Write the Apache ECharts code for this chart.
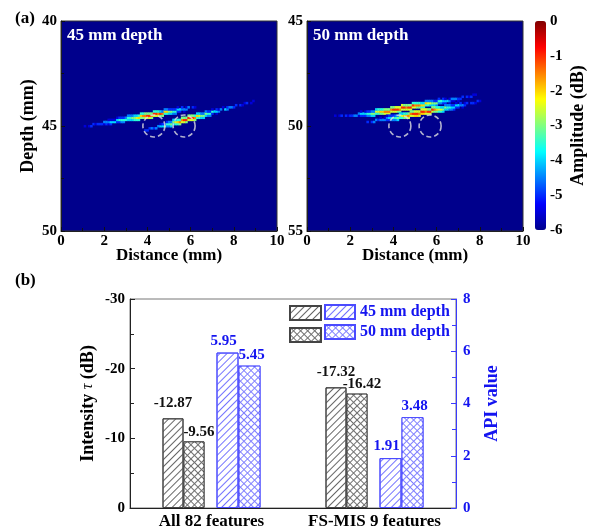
<!DOCTYPE html>
<html><head><meta charset="utf-8">
<script src="https://cdn.jsdelivr.net/npm/echarts@6/dist/echarts.min.js"></script>
<style>html,body{margin:0;padding:0;background:#fff}#c{width:592px;height:529px}</style>
</head><body><div id="c"></div>
<script>
// ================= DATA =================
// ---- panel (a): B-scan images ----
const distanceTicks = [0, 2, 4, 6, 8, 10];
const depthRange45 = [40, 50];
const depthRange50 = [45, 55];
const amplitudeRange = [-6, 0];
// amplitude code -> dB  ('.' = -6 dB background)
const LEVEL_DB = {'1':-5.5,'2':-5,'3':-4.5,'4':-4,'5':-3.5,'6':-3,'7':-2.5,'8':-2,'9':-1.5,'A':-1,'B':-0.5};
// image cells are 0.1 mm x 0.1 mm; origin = centre of row 0 / col 0
const origin45 = {x0: 1.0, d0: 43.8};
const origin50 = {x0: 1.0, d0: 48.4};
// [row, first column, amplitude codes]
const cells45 = [
  [12,1,'1.12'],
  [11,5,'21222'],[11,10,'1212'],
  [10,10,'333444'],[10,16,'2233'],
  [9,12,'1111'],[9,16,'45555'],[9,21,'444555'],
  [8,16,'12223'],[8,21,'556678'],[8,27,'667776'],
  [7,21,'333445'],[7,27,'899AA9'],[7,33,'77766'],
  [6,27,'556666'],[6,33,'AA9A9'],[6,38,'554433'],
  [5,33,'55543'],[5,38,'886655'],[5,44,'22.1.'],
  [4,38,'332222'],[4,44,'44333'],
  [3,44,'1.2.1'],[3,49,'3.21'],
  [14,29,'22'],
  [13,31,'2323'],
  [12,35,'3445'],[12,39,'334'],
  [11,36,'122'],[11,39,'556'],[11,42,'4556'],
  [10,39,'233'],[10,42,'6789'],[10,46,'776'],
  [9,42,'4455'],[9,46,'9AA'],[9,49,'7776'],
  [8,46,'666'],[8,49,'AAA9'],[8,53,'5544'],
  [7,49,'6665'],[7,53,'8766'],[7,57,'433'],
  [6,53,'4433'],[6,57,'655'],[6,60,'2.1.'],
  [5,57,'322'],[5,60,'5443'],
  [4,60,'1.21'],[4,64,'3.43'],
  [3,64,'.1.2'],[3,68,'332'],
  [2,71,'2.21'],
  [1,75,'12.1'],
  [0,79,'1']
];
const cells50 = [
  [11,3,'1.12.212233'],[11,14,'12223344'],
  [10,14,'34445566'],[10,22,'5566777'],
  [9,14,'.1.12233'],[9,22,'7788999'],[9,29,'77766'],
  [8,22,'4555666'],[8,29,'9AAA9'],[8,34,'77777'],
  [7,29,'66777'],[7,34,'AA9AA'],[7,39,'776655'],
  [6,34,'76666'],[6,39,'A99988'],[6,45,'554443'],
  [5,39,'555544'],[5,45,'877666'],[5,51,'3322.1'],
  [4,45,'333322'],[4,51,'554443'],[4,57,'11.1.'],
  [3,51,'2.21.1'],[3,57,'33322'],
  [2,62,'2.212'],
  [1,67,'11'],
  [14,18,'2.23'],
  [13,22,'32333'],[13,27,'223334'],
  [12,24,'1.1'],[12,27,'344556'],[12,33,'55667'],
  [11,27,'122233'],[11,33,'67889'],[11,38,'77887'],
  [10,33,'44556'],[10,38,'9AAA9'],[10,43,'88777'],
  [9,38,'66777'],[9,43,'AA9AA'],[9,48,'766554'],
  [8,43,'77766'],[8,48,'A98776'],[8,54,'44332'],
  [7,48,'665544'],[7,54,'65544'],[7,59,'22.1.'],
  [6,54,'33322'],[6,59,'44332'],
  [5,59,'1.2.1'],[5,64,'2.221'],
  [4,69,'21']
];
const circles45 = [[4.3, 45.0], [5.7, 45.0]];
const circles50 = [[4.3, 50.0], [5.7, 50.0]];

// ---- panel (b): bars ----
const featureSets = ['All 82 features', 'FS-MIS 9 features'];
const tau45 = [-12.87, -17.32];
const tau50 = [-9.56, -16.42];
const api45 = [5.95, 1.91];
const api50 = [5.45, 3.48];
const spacer = [0, 0];

// ================= CHART =================
const CELL = 0.1;
const F = '"Liberation Serif","Times New Roman",serif';
const BLUE = '#1414F0';
const JET = ['#00008C','#0000FF','#0080FF','#00FFFF','#80FF80','#FFFF00','#FF8000','#FF0000','#800000'];

function decode(cells, o) {
  const out = [];
  cells.forEach(([row, col, codes]) => {
    for (let k = 0; k < codes.length; k++) {
      const ch = codes[k];
      if (ch === '.') continue;
      out.push([+(o.x0 + CELL * (col + k)).toFixed(2), +(o.d0 + CELL * row).toFixed(2), LEVEL_DB[ch]]);
    }
  });
  return out;
}
function renderCell(params, api) {
  const x = api.value(0), d = api.value(1);
  const p1 = api.coord([x - CELL / 2, d - CELL / 2]);
  const p2 = api.coord([x + CELL / 2, d + CELL / 2]);
  return {
    type: 'rect',
    shape: {x: Math.min(p1[0], p2[0]), y: Math.min(p1[1], p2[1]),
            width: Math.abs(p2[0] - p1[0]) + 0.4, height: Math.abs(p2[1] - p1[1]) + 0.4},
    style: {fill: api.visual('color')}
  };
}

const lab = (extra) => Object.assign({fontFamily: F, fontWeight: 'bold', fontSize: 15, color: '#000'}, extra || {});
function distAxis(gi) {
  return {
    type: 'value', gridIndex: gi, min: 0, max: 10, interval: 2,
    name: 'Distance (mm)', nameLocation: 'middle', nameGap: 16, nameMoveOverlap: false,
    nameTextStyle: lab({fontSize: 17}),
    axisLine: {show: true, lineStyle: {color: '#222', width: 1}},
    axisTick: {show: true, inside: true, length: 4, lineStyle: {color: '#111'}},
    minorTick: {show: true, splitNumber: 2, length: 3, lineStyle: {color: '#111'}},
    axisLabel: lab({margin: 3}),
    splitLine: {show: false}
  };
}
function depthAxis(gi, range, named) {
  return {
    type: 'value', gridIndex: gi, min: range[0], max: range[1], interval: 5, inverse: true,
    name: named ? 'Depth (mm)' : '', nameLocation: 'middle', nameGap: 24, nameRotate: 90, nameMoveOverlap: false,
    nameTextStyle: lab({fontSize: 18}),
    axisLine: {show: true, lineStyle: {color: '#222', width: 1}},
    axisTick: {show: true, inside: true, length: 4, lineStyle: {color: '#111'}},
    minorTick: {show: true, splitNumber: 2, length: 3, lineStyle: {color: '#111'}},
    axisLabel: lab({margin: 4}),
    splitLine: {show: false}
  };
}
const hatch = (line) => ({symbol: 'rect', symbolSize: 1, color: line, dashArrayX: [1, 0], dashArrayY: [0.9, 3.4], rotation: -Math.PI / 4});
const cross = () => ({symbol: 'rect', symbolSize: 1, color: '#ffffff', dashArrayX: [3.2, 1], dashArrayY: [3.2, 1], rotation: Math.PI / 4});

const circleSeries = (xi, yi, data) => ({
  type: 'scatter', xAxisIndex: xi, yAxisIndex: yi, data: data, symbol: 'circle', symbolSize: 22, silent: true, z: 5,
  itemStyle: {color: 'rgba(0,0,0,0)', borderColor: '#e0e0e0', borderWidth: 1.6, borderType: [5, 3]}
});

const option = {
  backgroundColor: '#fff',
  animation: false,
  grid: [
    {left: 61, top: 21, width: 216, height: 210, show: true, backgroundColor: JET[0], borderColor: '#333', borderWidth: 1, outerBoundsMode: 'none'},
    {left: 307, top: 21, width: 216, height: 210, show: true, backgroundColor: JET[0], borderColor: '#333', borderWidth: 1, outerBoundsMode: 'none'},
    {left: 535, top: 21, width: 11, height: 209, show: false, outerBoundsMode: 'none'},
    {left: 130, top: 299, width: 326, height: 209, show: true, backgroundColor: 'rgba(0,0,0,0)', borderColor: '#777', borderWidth: 1, outerBoundsMode: 'none'}
  ],
  xAxis: [
    distAxis(0),
    distAxis(1),
    {type: 'value', gridIndex: 2, min: 0, max: 1, show: false},
    {type: 'category', gridIndex: 3, data: featureSets,
     axisLine: {show: true, lineStyle: {color: '#222'}}, axisTick: {show: false},
     axisLabel: lab({fontSize: 17, margin: 5, interval: 0, hideOverlap: false}), splitLine: {show: false}}
  ],
  yAxis: [
    depthAxis(0, depthRange45, true),
    depthAxis(1, depthRange50, false),
    {type: 'value', gridIndex: 2, min: amplitudeRange[0], max: amplitudeRange[1], interval: 1, position: 'right',
     name: 'Amplitude (dB)', nameLocation: 'middle', nameGap: 23, nameRotate: 90, nameMoveOverlap: false,
     nameTextStyle: lab({fontSize: 18}),
     axisLine: {show: false}, axisTick: {show: false}, axisLabel: lab({margin: 4}), splitLine: {show: false}},
    {type: 'value', gridIndex: 3, min: -30, max: 0, interval: 10, inverse: true, position: 'left',
     name: '{a|Intensity }{b|τ}{a| (dB)}', nameLocation: 'middle', nameGap: 33, nameRotate: 90, nameMoveOverlap: false,
     nameTextStyle: {rich: {a: lab({fontSize: 18}), b: {fontFamily: F, fontStyle: 'italic', fontSize: 16, color: '#000'}}},
     axisLine: {show: true, lineStyle: {color: '#222'}},
     axisTick: {show: true, inside: true, length: 5, lineStyle: {color: '#222'}},
     minorTick: {show: true, splitNumber: 2, length: 4, lineStyle: {color: '#222'}},
     axisLabel: lab({margin: 5}), splitLine: {show: false}},
    {type: 'value', gridIndex: 3, min: 0, max: 8, interval: 2, position: 'right',
     name: 'API value', nameLocation: 'middle', nameGap: 27, nameRotate: 90, nameMoveOverlap: false,
     nameTextStyle: lab({fontSize: 18, color: BLUE}),
     axisLine: {show: true, lineStyle: {color: '#3a3aff'}},
     axisTick: {show: true, inside: true, length: 5, lineStyle: {color: '#3a3aff'}},
     minorTick: {show: true, splitNumber: 2, length: 4, lineStyle: {color: '#3a3aff'}},
     axisLabel: lab({margin: 7, color: BLUE}), splitLine: {show: false}}
  ],
  visualMap: {
    type: 'continuous', min: amplitudeRange[0], max: amplitudeRange[1], seriesIndex: [0, 1], dimension: 2,
    inRange: {color: JET}, left: 535, top: 21, itemWidth: 11, itemHeight: 209, padding: 0,
    calculable: false, hoverLink: false, text: null, textStyle: {fontSize: 0}
  },
  legend: [
    {data: ['τ 45 mm depth', 'τ 50 mm depth'], orient: 'vertical', left: 289, top: 305, padding: 0,
     itemWidth: 31, itemHeight: 14, itemGap: 6, icon: 'rect', selectedMode: false, formatter: () => ''},
    {data: ['45 mm depth', '50 mm depth'], orient: 'vertical', left: 324, top: 304, padding: 0,
     itemWidth: 30, itemHeight: 14, itemGap: 4, icon: 'rect', selectedMode: false,
     textStyle: lab({fontSize: 16, color: BLUE, lineHeight: 16})}
  ],
  graphic: [
    {type: 'text', left: 15, top: 10, style: {text: '(a)', font: 'bold 17px ' + F, fill: '#000'}},
    {type: 'text', left: 15, top: 272, style: {text: '(b)', font: 'bold 17px ' + F, fill: '#000'}},
    {type: 'text', left: 67, top: 27, z: 10, style: {text: '45 mm depth', font: 'bold 17px ' + F, fill: '#fff'}},
    {type: 'text', left: 313, top: 27, z: 10, style: {text: '50 mm depth', font: 'bold 17px ' + F, fill: '#fff'}}
  ],
  series: [
    {type: 'custom', xAxisIndex: 0, yAxisIndex: 0, data: decode(cells45, origin45), encode: {x: 0, y: 1}, renderItem: renderCell, clip: true, silent: true},
    {type: 'custom', xAxisIndex: 1, yAxisIndex: 1, data: decode(cells50, origin50), encode: {x: 0, y: 1}, renderItem: renderCell, clip: true, silent: true},
    circleSeries(0, 0, circles45),
    circleSeries(1, 1, circles50),
    {name: 'τ 45 mm depth', type: 'bar', xAxisIndex: 3, yAxisIndex: 3, data: tau45, barWidth: 21, barGap: '0%',
     itemStyle: {color: '#fff', borderColor: '#444', borderWidth: 1, decal: hatch('#666')},
     label: {show: true, position: 'top', distance: 8, offset: [0, 0], formatter: p => p.value.toFixed(2), ...lab({color: '#111'})}},
    {name: 'τ 50 mm depth', type: 'bar', xAxisIndex: 3, yAxisIndex: 3, data: tau50, barWidth: 21, barGap: '0%',
     itemStyle: {color: '#707070', borderColor: '#444', borderWidth: 1, decal: cross()},
     label: {show: true, position: 'top', distance: 2, offset: [5, 0], formatter: p => p.value.toFixed(2), ...lab({color: '#111'})}},
    {name: 'spacer', type: 'bar', xAxisIndex: 3, yAxisIndex: 3, data: spacer, barWidth: 12, barGap: '0%', silent: true,
     itemStyle: {color: 'rgba(0,0,0,0)', borderWidth: 0}},
    {name: '45 mm depth', type: 'bar', xAxisIndex: 3, yAxisIndex: 4, data: api45, barWidth: 22, barGap: '0%',
     itemStyle: {color: '#fff', borderColor: '#4b4bff', borderWidth: 1, decal: hatch('#7373ff')},
     label: {show: true, position: 'top', distance: 4, offset: [-4, 0], formatter: p => p.value.toFixed(2), ...lab({color: BLUE})}},
    {name: '50 mm depth', type: 'bar', xAxisIndex: 3, yAxisIndex: 4, data: api50, barWidth: 22, barGap: '0%',
     itemStyle: {color: '#8080ff', borderColor: '#4b4bff', borderWidth: 1, decal: cross()},
     label: {show: true, position: 'top', distance: 3, offset: [2, 0], formatter: p => p.value.toFixed(2), ...lab({color: BLUE})}}
  ]
};
const chart = echarts.init(document.getElementById('c'), null, {renderer: 'canvas'});
chart.setOption(option);
</script>
</body></html>
